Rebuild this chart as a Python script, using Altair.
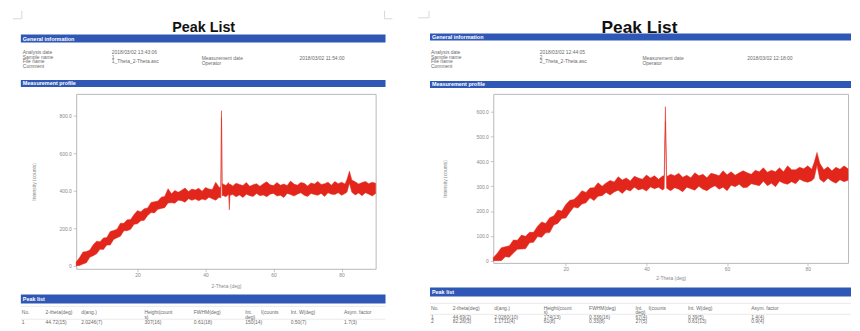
import altair as alt
import pandas as pd

FONT = "Liberation Sans"
RED = "#e3261b"
BLUE = "#2f58b6"
GRAY = "#6a6a6a"

# ---------------- data: sample 1 (left report) ----------------
tt1 = [2, 3, 4, 5, 6, 7, 8, 9, 10, 11, 12, 13, 14, 15, 16, 17, 18, 19, 20, 21, 22, 23, 24, 25, 26,
       27, 28, 29, 30, 31, 32, 33, 34, 35, 36, 37, 38, 39, 40, 41, 42, 43, 44, 44.5, 44.7, 44.9, 45,
       46, 46.8, 47, 47.2, 48, 49, 50, 51, 52, 53, 54, 55, 56, 57, 58, 59, 60, 61, 62, 63, 64, 65,
       66, 67, 68, 69, 70, 71, 72, 73, 74, 75, 76, 77, 78, 79, 80, 81, 81.6, 82.3, 83, 84, 85, 86,
       87, 88, 89, 90]
lo1 = [0, 1, 9, 15, 45, 53, 63, 88, 86, 110, 110, 140, 149, 157, 186, 187, 194, 221, 224, 240,
       242, 268, 284, 282, 301, 306, 310, 335, 336, 334, 350, 347, 339, 358, 349, 356, 347, 356, 351,
       366, 357, 350, 365,
       362, 790, 372, 376, 368, 382, 298, 376,
       380, 368, 378, 364, 382, 374, 370, 386, 374, 378, 368, 382, 386, 372, 376, 364, 386, 380, 372,
       382, 390, 376, 370, 386, 380, 376, 386, 370, 390, 382, 380, 390, 376, 386,
       394, 440, 392, 378, 388, 374, 390, 382, 372, 386]
hi1 = [20, 43, 73, 75, 83, 111, 131, 128, 148, 150, 182, 188, 195, 227, 226, 245, 246, 273, 294, 288,
       304, 308, 338, 342, 345, 366, 370, 411, 384, 402, 392, 403, 415, 396, 409, 404, 413, 398, 417,
       410, 407, 446, 419,
       418, 828, 426, 438, 428, 444, 432, 436,
       426, 440, 434, 428, 444, 424, 432, 438, 424, 438, 448, 432, 428, 444, 430, 436, 428, 452, 436,
       430, 444, 440, 426, 442, 436, 450, 434, 438, 446, 430, 450, 438, 446, 436,
       462, 505, 458, 448, 436, 444, 450, 438, 446, 440]

# ---------------- data: sample 2 (right report) ----------------
tt2 = [2, 3, 4, 5, 6, 7, 8, 9, 10, 11, 12, 13, 14, 15, 16, 17, 18, 19, 20, 21, 22, 23, 24, 25, 26,
       27, 28, 29, 30, 31, 32, 33, 34, 35, 36, 37, 38, 39, 40, 41, 42, 43, 44, 44.4, 44.7,
       45, 46, 47, 48, 49, 50, 51, 52, 53, 54, 55, 56, 57, 58, 59, 60, 61, 62, 63, 64, 65, 66, 67,
       68, 69, 70, 71, 72, 73, 74, 75, 76, 77, 78, 79, 80, 81, 81.6, 82.3, 83, 84, 85, 86, 87, 88,
       89, 90]
lo2 = [0, 0, 0, 16, 14, 31, 46, 47, 48, 72, 74, 97, 94, 112, 113, 144, 150, 170, 172, 195, 216,
       212, 228, 233, 253, 242, 260, 262, 275, 265, 277, 284, 271, 287, 281, 296, 285, 290, 281, 297,
       290, 296, 285,
       290, 560,
       292, 282, 294, 288, 278, 296, 290, 284, 300, 288, 282, 294, 302, 288, 296, 282, 304, 298, 308,
       294, 296, 310, 306, 302, 320, 302, 312, 298, 320, 312, 308, 318, 310, 328, 320, 316, 322,
       332, 384, 328, 316, 332, 320, 312, 326, 318, 324]
hi2 = [12, 30, 52, 56, 60, 83, 82, 103, 98, 114, 114, 139, 156, 150, 173, 180, 204, 200, 226, 243,
       246, 262, 282, 275, 293, 294, 314, 300, 313, 323, 317, 338, 325, 333, 321, 340, 333, 328, 345,
       333, 342, 328, 341,
       342, 620,
       338, 348, 342, 352, 336, 344, 334, 354, 342, 348, 334, 352, 348, 342, 362, 346, 358, 344, 354,
       362, 354, 348, 364, 358, 374, 356, 364, 358, 374, 358, 382, 366, 366, 376, 370, 382, 368,
       396, 436, 392, 366, 378, 362, 376, 368, 382, 370]

# ---------------- texts ----------------
report_title = "Peak List"
section_titles = ["General information", "Measurement profile", "Peak list"]
info_labels = ["Analysis date", "Sample name", "File name", "Comment"]
meas_labels = ["Measurement date", "Operator"]
info_values1 = ["2018/03/02 13:43:06", "1", "1_Theta_2-Theta.asc", ""]
meas_values1 = ["2018/03/02 11:54:00", ""]
info_values2 = ["2018/03/02 12:44:05", "2", "2_Theta_2-Theta.asc", ""]
meas_values2 = ["2018/03/02 12:18:00", ""]
table_head1 = ["No.", "2-theta(deg)", "d(ang.)", "Height(count", "FWHM(deg)", "Int.", "I(counts",
               "Int. W(deg)", "Asym. factor"]
table_head2 = ["", "", "", "s)", "", "deg)", "", "", ""]
peaks1 = [["1", "44.72(15)", "2.0246(7)", "307(16)", "0.61(18)", "150(14)", "", "0.50(7)", "1.7(3)"]]
peaks2 = [["1", "44.69(2)", "2.0260(10)", "174(13)", "0.336(16)", "67(4)", "", "0.39(5)", "1.4(4)"],
          ["2", "82.26(3)", "1.1711(4)", "61(8)", "0.33(8)", "27(5)", "", "0.61(13)", "0.9(4)"]]
x_title = "2-Theta (deg)"
y_title = "Intensity (counts)"
x_ticks = [20, 40, 60, 80]
y_ticks1 = [0, 200, 400, 600, 800]
y_ticks2 = [0, 100, 200, 300, 400, 500, 600]


def text_layer(xs, ys, texts, size, color, weight="normal", align="left", baseline="middle"):
    rows = [(x, y, t) for x, y, t in zip(xs, ys, texts) if t]
    df = pd.DataFrame(rows, columns=["px", "py", "label"])
    return alt.Chart(df).mark_text(align=align, baseline=baseline, fontSize=size, color=color,
                                   fontWeight=weight, font=FONT).encode(
        x=alt.X("px:Q", scale=None, axis=None),
        y=alt.Y("py:Q", scale=None, axis=None),
        text="label:N")


def rect_layer(boxes, color, opacity=1.0):
    df = pd.DataFrame(boxes, columns=["x0", "y0", "x1", "y1"])
    return alt.Chart(df).mark_rect(color=color, opacity=opacity).encode(
        x=alt.X("x0:Q", scale=None, axis=None), x2="x1:Q",
        y=alt.Y("y0:Q", scale=None, axis=None), y2="y1:Q")


def rule_layer(segs, color, width=0.8):
    df = pd.DataFrame(segs, columns=["x0", "y0", "x1", "y1"])
    return alt.Chart(df).mark_rule(color=color, strokeWidth=width).encode(
        x=alt.X("x0:Q", scale=None, axis=None), x2="x1:Q",
        y=alt.Y("y0:Q", scale=None, axis=None), y2="y1:Q")


def page(tt, lo, hi, info_values, meas_values, peaks, yticks, L):
    W, H = L["w"], L["h"]
    df = pd.DataFrame({"two_theta": tt, "lo": lo, "hi": hi})
    area = alt.Chart(df).mark_area(color=RED, stroke=RED, strokeWidth=0.5, opacity=1).encode(
        x=alt.X("two_theta:Q",
                scale=alt.Scale(domain=[2, 90], nice=False, zero=False),
                axis=alt.Axis(values=x_ticks, title=x_title, titleX=W / 2, titleY=L["xty"],
                              titleAlign="center", titleBaseline="middle", labelPadding=1)),
        y=alt.Y("lo:Q",
                scale=alt.Scale(domain=L["ydom"], nice=False, zero=False),
                axis=alt.Axis(values=yticks, title=y_title, titleX=L["ytx"], titleY=H / 2,
                              titleAngle=270, titleAlign="center", titleBaseline="middle",
                              labelPadding=2,
                              labelExpr="datum.value == 0 ? '0' : format(datum.value, '.1f')")),
        y2="hi:Q")

    bx0, bx1 = L["bar_x"]
    bg = rect_layer([L["page"]], "white", opacity=0)
    crops = rule_layer(L["crops"], "#cfcfcf")
    bars = rect_layer([(bx0, y0, bx1, y1) for (y0, y1) in L["bars_y"]], BLUE)
    bar_txt = text_layer([bx0 + 2] * 3, [(a + b) / 2 for a, b in L["bars_y"]], section_titles,
                         5.5, "white", weight="bold")
    title = text_layer([L["title_xy"][0]], [L["title_xy"][1]], [report_title], L["title_size"],
                       "#111111", weight="bold", align="center", baseline="alphabetic")
    ix = L["info_x"]
    info = text_layer([ix[0]] * 4 + [ix[1]] * 4 + [ix[2]] * 2 + [ix[3]] * 2,
                      L["info_y"] * 2 + L["meas_y"] * 2,
                      info_labels + info_values + meas_labels + meas_values, 5, GRAY)
    cols = L["cols"]
    xs, ys, ts = [], [], []
    for i, c in enumerate(cols):
        xs += [c, c]
        ys += [L["head_y"][0], L["head_y"][1]]
        ts += [table_head1[i], table_head2[i]]
        for r, row in enumerate(peaks):
            xs.append(c)
            ys.append(L["row_y"][r])
            ts.append(row[i])
    table = text_layer(xs, ys, ts, 5, GRAY)
    tlines = rule_layer([(bx0, y, bx1, y) for y in L["tline_y"]], "#dcdcdc", 0.6)
    return alt.layer(bg, crops, bars, bar_txt, title, info, tlines, table, area).properties(
        width=W, height=H)


L1 = dict(w=303, h=177, ydom=[-17, 918], xty=17, ytx=-43,
          page=(-68, -84, 320, 236),
          crops=[(-55, -84, -55, -76), (-64, -76, -55, -76), (312, -84, 312, -76), (312, -76, 320, -76)],
          bar_x=(-56, 313), bars_y=[(-60, -52), (-14, -7), (203, 212)],
          title_xy=(129, -63), title_size=14.5,
          info_x=[-54, 36, 127, 226], info_y=[-42, -37.5, -33, -28.5], meas_y=[-36, -31],
          cols=[-55, -31, 5, 69, 119, 171, 187, 217, 271], head_y=[221, 226], row_y=[231],
          tline_y=[215, 228])

L2 = dict(w=359, h=171, ydom=[-9, 672], xty=15, ytx=-49,
          page=(-76, -84, 362, 236),
          crops=[(-65, -84, -65, -77), (-76, -77, -65, -77)],
          bar_x=(-64, 362), bars_y=[(-61, -54), (-13, -6), (196, 205)],
          title_xy=(148, -62), title_size=17.5,
          info_x=[-63, 47, 151, 257], info_y=[-42, -37.7, -33, -28], meas_y=[-36.3, -31.3],
          cols=[-63, -41, 1, 51, 97, 144, 157, 197, 261], head_y=[216.3, 220.3], row_y=[225.3, 229.7],
          tline_y=[212, 223])

left = page(tt1, lo1, hi1, info_values1, meas_values1, peaks1, y_ticks1, L1)
right = page(tt2, lo2, hi2, info_values2, meas_values2, peaks2, y_ticks2, L2)

chart = alt.hconcat(left, right, spacing=24).properties(
    padding={"left": 0, "top": 0, "right": 0, "bottom": 0}
).configure_view(
    stroke="#b8b8b8", strokeWidth=1
).configure_axis(
    domain=False, grid=False, tickSize=3, tickColor="#a0a0a0", tickWidth=0.6,
    labelFont=FONT, labelFontSize=5, labelColor="#8a8a8a",
    titleFont=FONT, titleFontSize=5, titleColor="#8a8a8a", titleFontWeight="normal"
)

chart.save("out.html", embed_options={"renderer": "svg", "actions": False})
